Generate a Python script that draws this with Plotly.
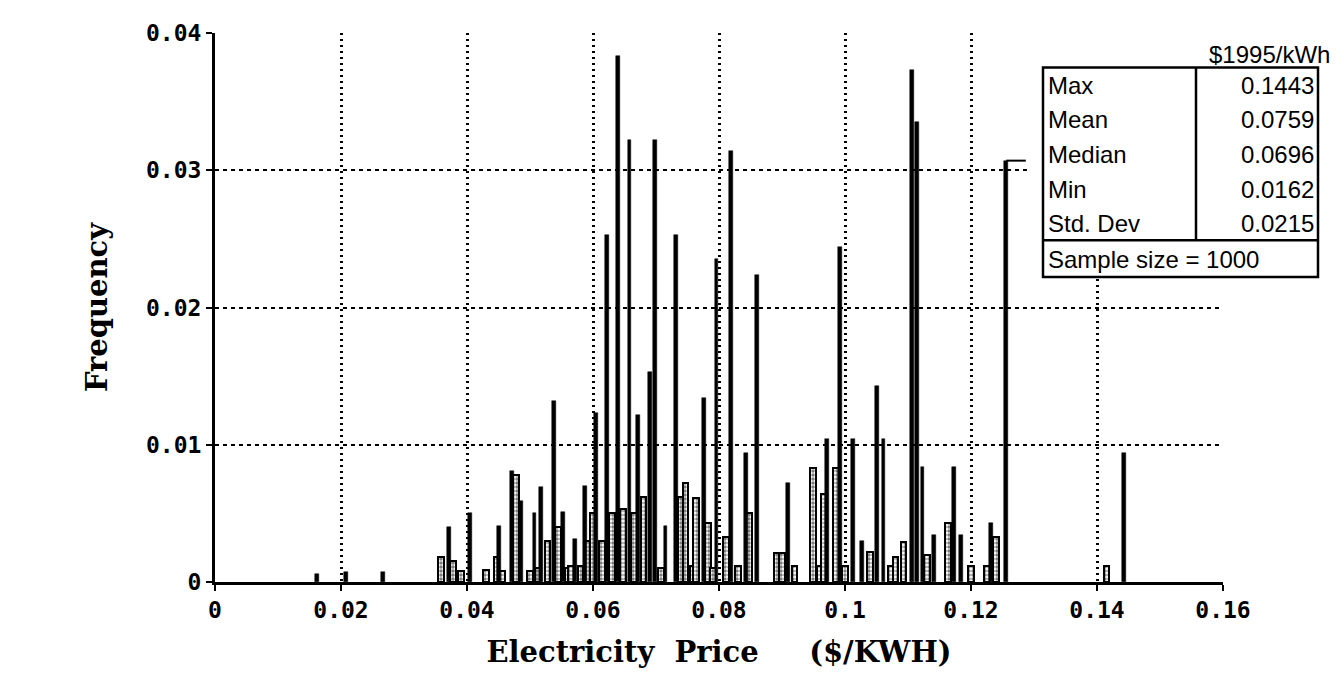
import plotly.graph_objects as go

# ---- data ----
spike_x = [0.0162, 0.0208, 0.0267, 0.0371, 0.0405, 0.0451, 0.0472, 0.0486, 0.0507, 0.0517,
           0.0538, 0.0552, 0.0571, 0.0587, 0.0605, 0.0622, 0.0640, 0.0658, 0.0672, 0.0691,
           0.0699, 0.0715, 0.0732, 0.0776, 0.0796, 0.0819, 0.0843, 0.0860, 0.0909, 0.0971,
           0.0992, 0.1013, 0.1027, 0.1051, 0.1061, 0.1106, 0.1114, 0.1123, 0.1141, 0.1173,
           0.1184, 0.1232, 0.1256, 0.1443]
spike_y = [0.0006, 0.0007, 0.0007, 0.0040, 0.0050, 0.0041, 0.0081, 0.0059, 0.0050, 0.0069,
           0.0132, 0.0051, 0.0031, 0.0070, 0.0123, 0.0253, 0.0383, 0.0322, 0.0122, 0.0153,
           0.0322, 0.0041, 0.0253, 0.0134, 0.0235, 0.0314, 0.0094, 0.0224, 0.0072, 0.0104,
           0.0244, 0.0104, 0.0030, 0.0143, 0.0104, 0.0373, 0.0335, 0.0084, 0.0034, 0.0084,
           0.0034, 0.0043, 0.0307, 0.0094]

hatch_x = [0.0359, 0.0378, 0.0390, 0.0430, 0.0447, 0.0456, 0.0478, 0.0500, 0.0512, 0.0528,
           0.0544, 0.0560, 0.0565, 0.0580, 0.0592, 0.0600, 0.0614, 0.0630, 0.0648, 0.0665,
           0.0680, 0.0708, 0.0740, 0.0747, 0.0758, 0.0764, 0.0783, 0.0790, 0.0811, 0.0830,
           0.0848, 0.0892, 0.0900, 0.0920, 0.0949, 0.0960, 0.0967, 0.0986, 0.1000, 0.1040,
           0.1073, 0.1080, 0.1093, 0.1130, 0.1163, 0.1200, 0.1225, 0.1240, 0.1415]
hatch_y = [0.0018, 0.0015, 0.0008, 0.0009, 0.0018, 0.0008, 0.0078, 0.0008, 0.0010, 0.0030,
           0.0040, 0.0010, 0.0012, 0.0012, 0.0030, 0.0050, 0.0030, 0.0050, 0.0053, 0.0050,
           0.0062, 0.0010, 0.0062, 0.0072, 0.0012, 0.0061, 0.0043, 0.0010, 0.0033, 0.0012,
           0.0050, 0.0021, 0.0021, 0.0012, 0.0083, 0.0012, 0.0064, 0.0083, 0.0012, 0.0022,
           0.0012, 0.0018, 0.0029, 0.0020, 0.0043, 0.0012, 0.0012, 0.0033, 0.0012]

x_ticks = [0, 0.02, 0.04, 0.06, 0.08, 0.1, 0.12, 0.14, 0.16]
x_tick_labels = ["0", "0.02", "0.04", "0.06", "0.08", "0.1", "0.12", "0.14", "0.16"]
y_ticks = [0, 0.01, 0.02, 0.03, 0.04]
y_tick_labels = ["0", "0.01", "0.02", "0.03", "0.04"]

stat_names = ["Max", "Mean", "Median", "Min", "Std. Dev"]
stat_values = ["0.1443", "0.0759", "0.0696", "0.0162", "0.0215"]
sample_text = "Sample size = 1000"
unit_text = "$1995/kWh"

# ---- geometry helpers (pixel -> paper) ----
L, R, T, B = 207, 1215, 18, 574
def px(xp):
    return (xp - L) / (R - L)
def py(yp):
    return (B - yp) / (B - T)

fig = go.Figure()
fig.add_bar(x=hatch_x, y=hatch_y, width=0.0009,
            marker=dict(color="white", line=dict(color="black", width=2),
                        pattern=dict(shape=".", fgcolor="black", bgcolor="white", size=4, solidity=0.6)),
            showlegend=False, hoverinfo="x+y")
fig.add_bar(x=spike_x, y=spike_y, width=0.0006,
            marker=dict(color="black", line=dict(color="black", width=0.5)),
            showlegend=False, hoverinfo="x+y")

tick_font = dict(family="DejaVu Sans Mono", size=23, color="black", weight="bold")
title_font = dict(family="DejaVu Serif", size=29, color="black", weight="bold")
nb = "\u00a0"

fig.update_layout(
    width=1344, height=684, autosize=False,
    margin=dict(l=L, r=1344 - R, t=T, b=684 - B),
    paper_bgcolor="white", plot_bgcolor="white",
    barmode="overlay", bargap=0,
    xaxis=dict(range=[0, 0.16], tickmode="array", tickvals=x_ticks, ticktext=x_tick_labels,
               showgrid=True, gridcolor="black", griddash="2px,4px", gridwidth=2.5,
               showline=True, linecolor="black", linewidth=2.5, zeroline=False,
               ticks="outside", ticklen=6, tickwidth=2, tickcolor="black",
               tickfont=tick_font,
               title=dict(text="Electricity" + nb * 2 + "Price" + nb * 5 + "($/KWH)",
                          font=title_font, standoff=20)),
    yaxis=dict(range=[0, 0.04], tickmode="array", tickvals=y_ticks, ticktext=y_tick_labels,
               showgrid=True, gridcolor="black", griddash="4px,4px", gridwidth=2,
               showline=True, linecolor="black", linewidth=3, zeroline=False,
               ticks="outside", ticklen=6, tickwidth=2, tickcolor="black",
               tickfont=tick_font,
               title=dict(text="Frequency", font=title_font, standoff=30)),
)

# white area hiding the grid behind the statistics box
shapes = [
    dict(type="rect", xref="paper", yref="paper", x0=px(1020), x1=1.14, y0=py(266), y1=1.05,
         fillcolor="white", line=dict(width=0), layer="above"),
    dict(type="rect", xref="paper", yref="paper", x0=px(1035), x1=px(1310), y0=py(265), y1=py(53),
         fillcolor="white", line=dict(color="black", width=2.5), layer="above"),
    dict(type="line", xref="paper", yref="paper", x0=px(1188), x1=px(1188), y0=py(228), y1=py(53),
         line=dict(color="black", width=2.5), layer="above"),
    dict(type="line", xref="paper", yref="paper", x0=px(1035), x1=px(1310), y0=py(228), y1=py(228),
         line=dict(color="black", width=2.5), layer="above"),
    # little horizontal cap on the 0.1256 spike
    dict(type="line", xref="x", yref="y", x0=0.1256, x1=0.1287, y0=0.0307, y1=0.0307,
         line=dict(color="black", width=2), layer="above"),
]
fig.update_layout(shapes=shapes)

label_font = dict(family="Liberation Sans", size=24, color="black")
value_font = dict(family="Liberation Sans Narrow, Liberation Sans", size=24, color="black")
row_y = [71, 106, 141, 176, 211]
ann = []
for name, val, yy in zip(stat_names, stat_values, row_y):
    ann.append(dict(xref="paper", yref="paper", x=px(1038), y=py(yy), text=name,
                    xanchor="left", yanchor="middle", showarrow=False, font=label_font))
    ann.append(dict(xref="paper", yref="paper", x=px(1308), y=py(yy), text=val,
                    xanchor="right", yanchor="middle", showarrow=False, font=value_font))
ann.append(dict(xref="paper", yref="paper", x=px(1038), y=py(247), text=sample_text,
                xanchor="left", yanchor="middle", showarrow=False, font=label_font))
ann.append(dict(xref="paper", yref="paper", x=px(1324), y=py(40), text=unit_text,
                xanchor="right", yanchor="middle", showarrow=False, font=value_font))
fig.update_layout(annotations=ann)

fig.write_html("out.html")
